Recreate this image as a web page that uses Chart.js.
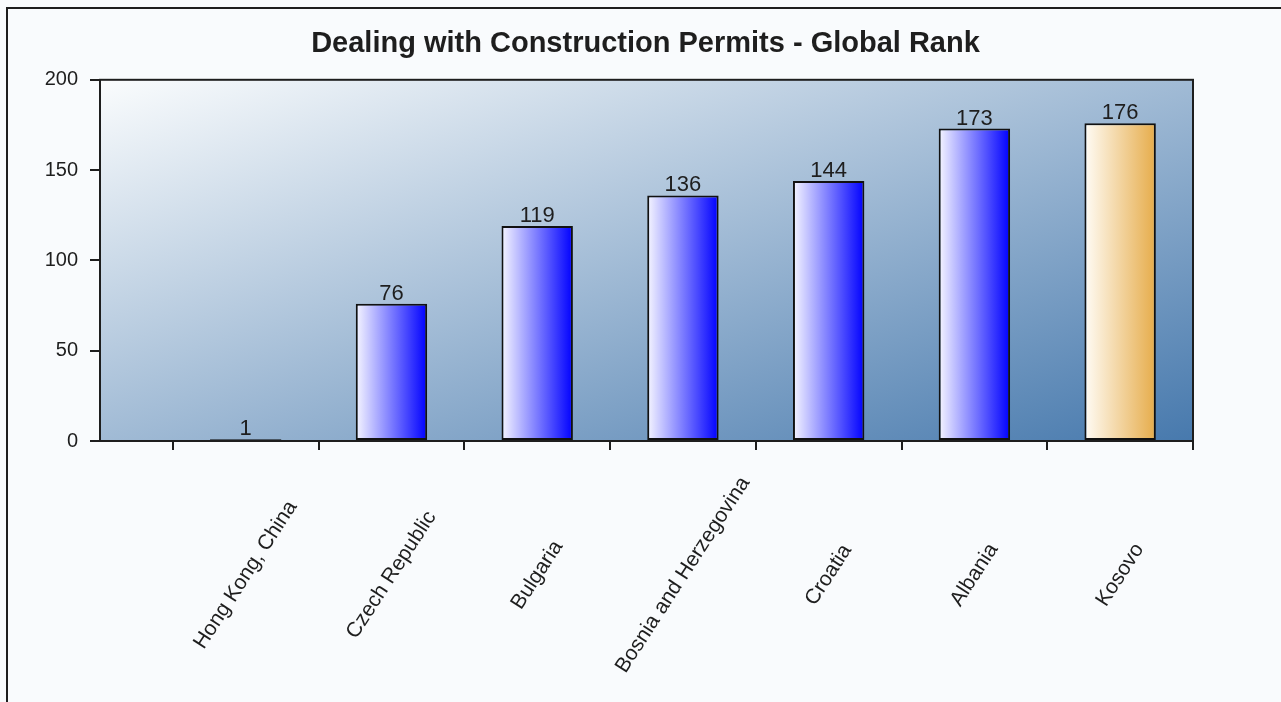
<!DOCTYPE html>
<html>
<head>
<meta charset="utf-8">
<script src="https://cdn.jsdelivr.net/npm/chart.js@4.4.1/dist/chart.umd.min.js"></script>
<style>
  html, body { margin: 0; padding: 0; background: #f9fbfd; overflow: hidden; }
  #frame { position: absolute; left: 6px; top: 7px; width: 1281px; height: 702px;
           border-left: 2px solid #1e1e1e; border-top: 2px solid #1e1e1e; }
  #myChart { position: absolute; left: 0; top: 0; }
</style>
</head>
<body>
<div id="frame"></div>
<canvas id="myChart" width="1281" height="702"></canvas>
<script>
var categories = ['Hong Kong, China', 'Czech Republic', 'Bulgaria', 'Bosnia and Herzegovina', 'Croatia', 'Albania', 'Kosovo'];
var ranks = [1, 76, 119, 136, 144, 173, 176];
var yTicks = [0, 50, 100, 150, 200];
var titleText = 'Dealing with Construction Permits - Global Rank';

var FONT = "'Liberation Sans', Arial, sans-serif";
var BAR_PCT = 0.49;

// plot background, frame, value labels and rotated category names
var decor = {
    id: 'decor',
    beforeDatasetsDraw: function (chart) {
        var a = chart.chartArea, ctx = chart.ctx;
        var w = a.right - a.left, h = a.bottom - a.top, d2 = w * w + h * h;
        var g = ctx.createLinearGradient(a.left, a.top, a.left + 2 * w * h * h / d2, a.top + 2 * w * w * h / d2);
        g.addColorStop(0, '#fafcfd');
        g.addColorStop(1, '#4779ad');
        ctx.save();
        ctx.fillStyle = g;
        ctx.fillRect(a.left, a.top, w, h);
        ctx.restore();
    },
    afterDatasetsDraw: function (chart) {
        var a = chart.chartArea, ctx = chart.ctx;
        var xs = chart.scales.x;
        ctx.save();
        ctx.strokeStyle = '#1e1e1e';
        ctx.lineWidth = 2;
        ctx.strokeRect(a.left, a.top, a.right - a.left, a.bottom - a.top);

        ctx.fillStyle = '#1e1e1e';
        ctx.font = '22px ' + FONT;
        ctx.textAlign = 'center';
        ctx.textBaseline = 'alphabetic';
        chart.getDatasetMeta(0).data.forEach(function (bar, i) {
            ctx.fillText(String(ranks[i]), bar.x, bar.y - 4);
        });

        ctx.font = '21px ' + FONT;
        ctx.textBaseline = 'middle';
        categories.forEach(function (c, i) {
            ctx.save();
            ctx.translate(xs.getPixelForValue(i), 575);
            ctx.rotate(-57 * Math.PI / 180);
            ctx.fillText(c, 0, 0);
            ctx.restore();
        });
        ctx.restore();
    }
};

function barFill(context) {
    var chart = context.chart;
    var light = '#f6f6ff', dark = '#0000ff';
    if (categories[context.dataIndex] === 'Kosovo') { light = '#fffcf6'; dark = '#e6ac4a'; }
    if (!chart.chartArea || context.type !== 'data') return dark;
    var xs = chart.scales.x;
    var cx = xs.getPixelForValue(context.dataIndex);
    var half = (xs.getPixelForValue(1) - xs.getPixelForValue(0)) * BAR_PCT / 2;
    var g = chart.ctx.createLinearGradient(cx - half, 0, cx + half, 0);
    g.addColorStop(0, light);
    g.addColorStop(1, dark);
    return g;
}

var myChart = new Chart(document.getElementById('myChart').getContext('2d'), {
    type: 'bar',
    data: {
        datasets: [{
            data: categories.map(function (c, i) { return { x: i, y: ranks[i] }; }),
            backgroundColor: barFill,
            borderColor: '#111111',
            borderWidth: 2,
            borderSkipped: false,
            barPercentage: BAR_PCT,
            categoryPercentage: 1
        }]
    },
    options: {
        responsive: false,
        animation: false,
        layout: { padding: { left: 10, right: 0, top: 0, bottom: 0 } },
        plugins: {
            legend: { display: false },
            tooltip: { enabled: false },
            title: {
                display: true,
                text: titleText,
                color: '#1e1e1e',
                font: { family: FONT, size: 29, weight: 'bold', lineHeight: 1.2 },
                padding: { top: 27, bottom: 18 }
            }
        },
        scales: {
            x: {
                type: 'linear',
                offset: false,
                min: -1,
                max: 6.5,
                afterBuildTicks: function (s) {
                    s.ticks = categories.map(function (c, i) { return { value: i - 0.5 }; })
                        .concat([{ value: categories.length - 0.5 }]);
                },
                afterFit: function (s) { s.height = 261; },
                ticks: { display: false },
                grid: { offset: false, drawOnChartArea: false, drawTicks: true, tickLength: 9, color: '#1e1e1e', lineWidth: 2 },
                border: { display: true, color: '#1e1e1e', width: 2 }
            },
            y: {
                min: 0,
                max: 200,
                afterBuildTicks: function (s) {
                    s.ticks = yTicks.map(function (v) { return { value: v }; });
                },
                afterFit: function (s) { s.width = 90; },
                ticks: { color: '#1e1e1e', padding: 12, font: { family: FONT, size: 20 } },
                grid: { drawOnChartArea: false, drawTicks: true, tickLength: 10, color: '#1e1e1e', lineWidth: 2 },
                border: { display: true, color: '#1e1e1e', width: 2 }
            },
            yRight: {
                position: 'right',
                display: true,
                afterFit: function (s) { s.width = 88; },
                ticks: { display: false },
                grid: { display: false },
                border: { display: false }
            }
        }
    },
    plugins: [decor]
});
</script>
</body>
</html>
